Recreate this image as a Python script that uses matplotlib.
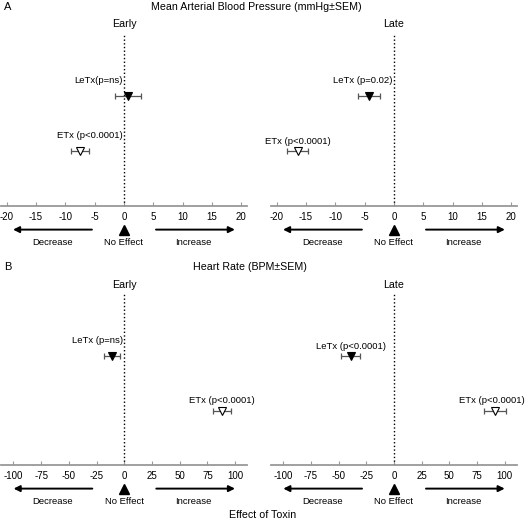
import matplotlib
matplotlib.use('Agg')
import matplotlib.pyplot as plt
from matplotlib.transforms import offset_copy

plt.rcParams['font.family'] = ['Liberation Sans', 'DejaVu Sans']

# values (change vs baseline, mean and SEM)
toxins = ['LeTx', 'ETx']
rows = [2, 1]  # vertical slot of each toxin

map_early = [0.7, -7.5]
map_early_sem = [2.2, 1.5]
map_late = [-4.2, -16.4]
map_late_sem = [1.9, 1.8]
map_early_p = ['LeTx(p=ns)', 'ETx (p<0.0001)']
map_late_p = ['LeTx (p=0.02)', 'ETx (p<0.0001)']

hr_early = [-11, 88]
hr_early_sem = [7, 8]
hr_late = [-39, 91]
hr_late_sem = [8.5, 10]
hr_early_p = ['LeTx (p=ns)', 'ETx (p<0.0001)']
hr_late_p = ['LeTx (p<0.0001)', 'ETx (p<0.0001)']

map_ticks = [-20, -15, -10, -5, 0, 5, 10, 15, 20]
hr_ticks = [-100, -75, -50, -25, 0, 25, 50, 75, 100]

W, H = 526, 522
fig = plt.figure(figsize=(W / 100, H / 100), dpi=100)


def px_axes(x0, y_top, w, y_bot):
    return fig.add_axes([x0 / W, 1 - y_bot / H, w / W, (y_bot - y_top) / H])


def panel(ax, vals, sems, labels, label_mode, ticks, lim, title):
    ax.set_xlim(-lim, lim)
    ax.set_ylim(0, 3.15)
    ax.axvline(0, ls=':', color='black', lw=1)
    for v, s, r, lab, mode, t in zip(vals, sems, rows, labels, label_mode, toxins):
        face = 'black' if t == 'LeTx' else 'white'
        ax.errorbar(v, r, xerr=s, fmt='none', ecolor='#555555', elinewidth=0.9,
                    capsize=2.2, capthick=0.9)
        ax.plot(v, r, marker='v', ms=5.2, mfc=face, mec='black', mew=0.8, ls='none')
        if mode == 'zero':
            ax.annotate(lab, (0, r), xytext=(-1, 8), textcoords='offset points',
                        ha='right', va='bottom', fontsize=6.8)
        elif mode == 'edge':
            ax.annotate(lab, (v, r), xytext=(-2, 4), textcoords='offset points',
                        ha='center', va='bottom', fontsize=6.8)
        else:
            ax.annotate(lab, (v, r), xytext=(0, 4), textcoords='offset points',
                        ha='center', va='bottom', fontsize=6.8)
    for sp in ['top', 'left', 'right']:
        ax.spines[sp].set_visible(False)
    ax.spines['bottom'].set_color('#999999')
    ax.spines['bottom'].set_linewidth(1.3)
    ax.set_yticks([])
    ax.set_xticks(ticks)
    ax.set_xticklabels([str(t) for t in ticks])
    ax.tick_params(axis='x', direction='in', length=3, color='#999999',
                   labelsize=7, pad=4)
    ax.set_title(title, fontsize=7.7, pad=4)

    tr = ax.get_xaxis_transform()
    arr_tr = offset_copy(tr, fig=fig, y=-17, units='points')
    txt_tr = offset_copy(tr, fig=fig, y=-26, units='points')
    ap = dict(arrowstyle='-|>', lw=1.4, color='black', mutation_scale=9,
              shrinkA=0, shrinkB=0)
    ax.annotate('', xy=(-0.9 * lim, 0), xytext=(-0.26 * lim, 0),
                xycoords=arr_tr, textcoords=arr_tr, arrowprops=ap,
                annotation_clip=False)
    ax.annotate('', xy=(0.9 * lim, 0), xytext=(0.26 * lim, 0),
                xycoords=arr_tr, textcoords=arr_tr, arrowprops=ap,
                annotation_clip=False)
    ax.plot([0], [0], marker='^', ms=7.5, color='black', transform=arr_tr,
            clip_on=False)
    ax.text(-0.58 * lim, 0, 'Decrease', transform=txt_tr, ha='center',
            va='center', fontsize=6.8)
    ax.text(0, 0, 'No Effect', transform=txt_tr, ha='center', va='center',
            fontsize=6.8)
    ax.text(0.56 * lim, 0, 'Increase', transform=txt_tr, ha='center',
            va='center', fontsize=6.8)


ax1 = px_axes(0.7, 33, 246.5, 206)
ax2 = px_axes(270.7, 33, 246.5, 206)
ax3 = px_axes(1.3, 294, 246, 465)
ax4 = px_axes(271, 294, 246, 465)

panel(ax1, map_early, map_early_sem, map_early_p, ['zero', 'zero'], map_ticks, 21, 'Early')
panel(ax2, map_late, map_late_sem, map_late_p, ['zero', 'center'], map_ticks, 21, 'Late')
panel(ax3, hr_early, hr_early_sem, hr_early_p, ['zero', 'center'], hr_ticks, 111, 'Early')
panel(ax4, hr_late, hr_late_sem, hr_late_p, ['center', 'edge'], hr_ticks, 111, 'Late')

fig.text(4 / W, 1 - 7 / H, 'A', fontsize=8, va='center', ha='left')
fig.text(256 / W, 1 - 7 / H, 'Mean Arterial Blood Pressure (mmHg\u00b1SEM)',
         fontsize=7.7, va='center', ha='center')
fig.text(4 / W, 1 - 267 / H, 'B', fontsize=8, va='center', ha='left')
fig.text(250 / W, 1 - 267 / H, 'Heart Rate (BPM\u00b1SEM)',
         fontsize=7.7, va='center', ha='center')
fig.text(263 / W, 1 - 515 / H, 'Effect of Toxin', fontsize=7.7,
         va='center', ha='center')

fig.savefig('out.png', dpi=100)
